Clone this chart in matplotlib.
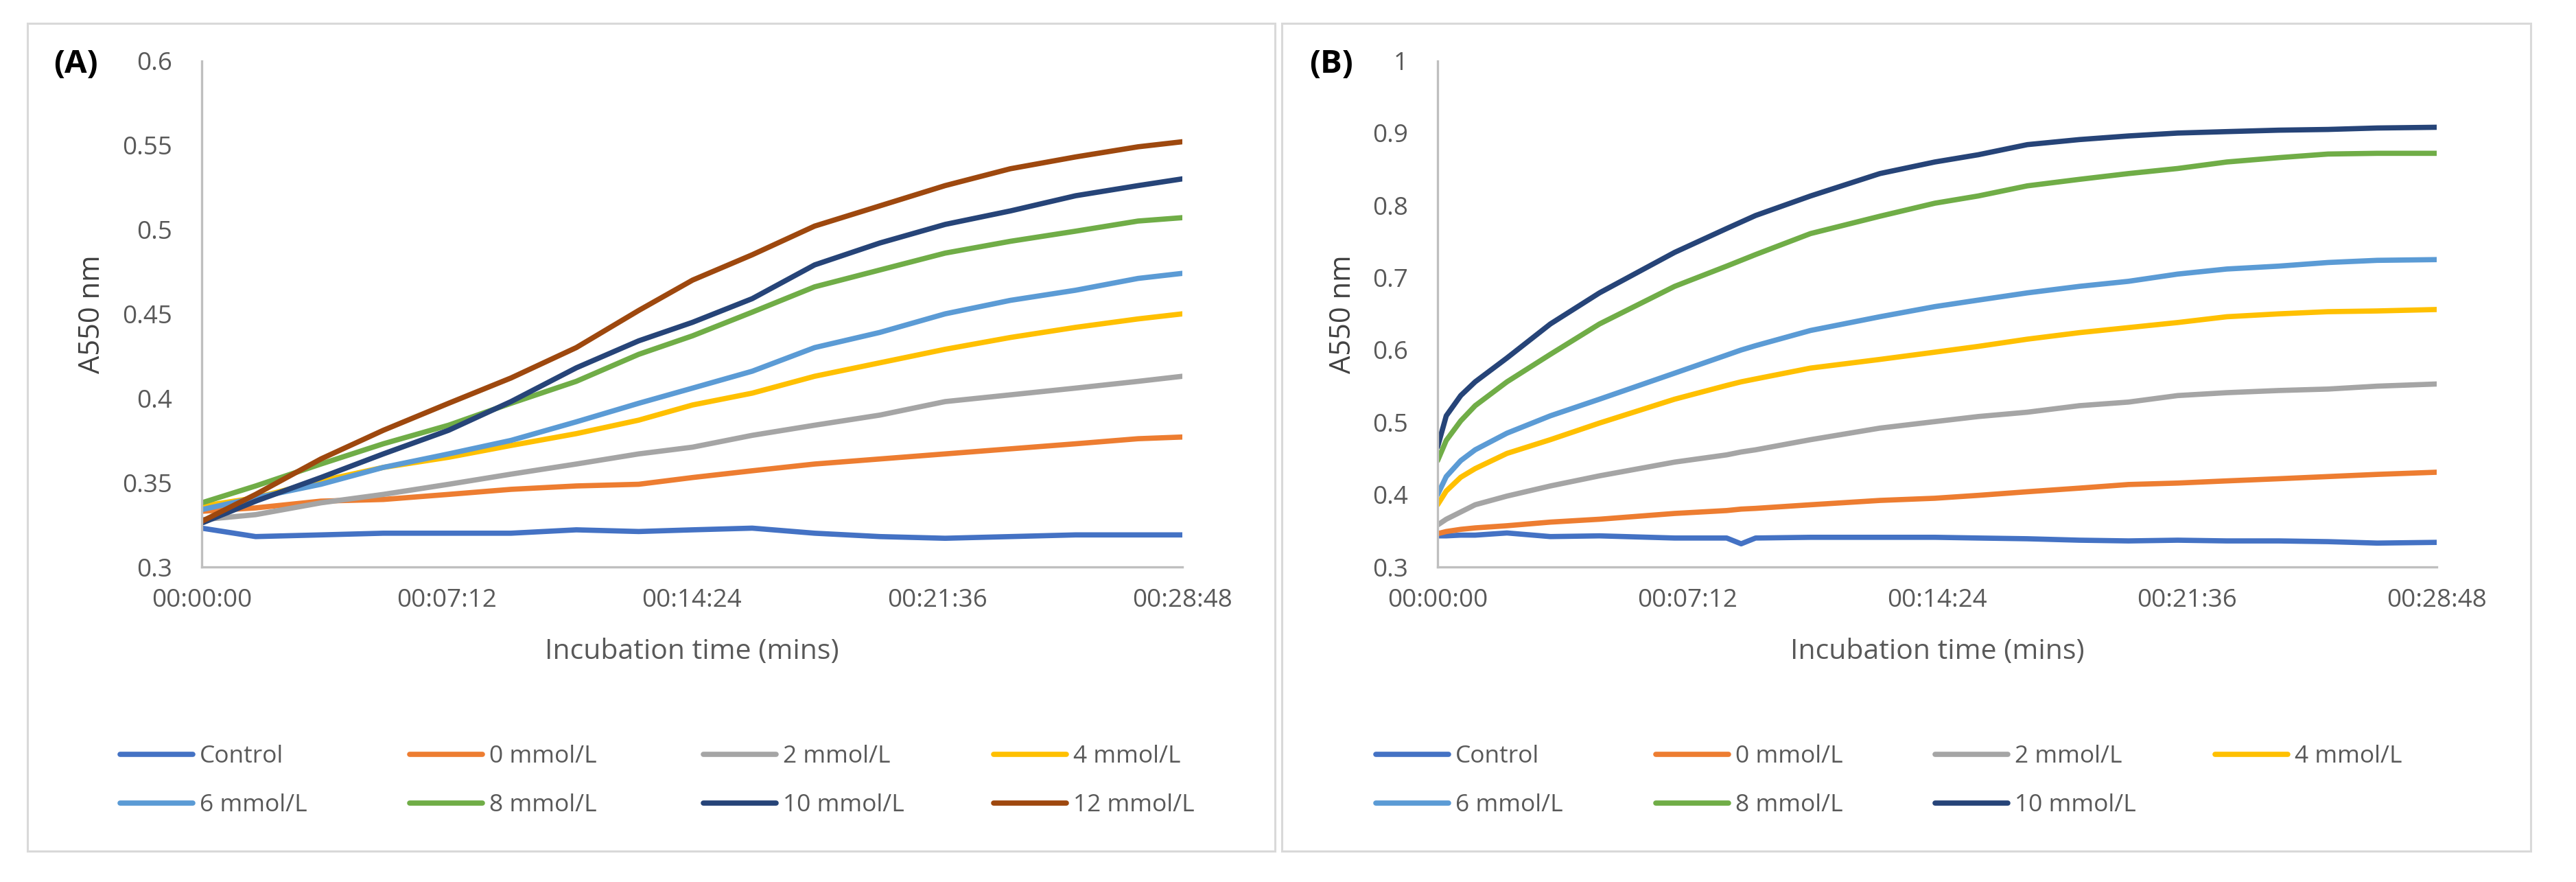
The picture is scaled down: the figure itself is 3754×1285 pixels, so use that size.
import matplotlib
matplotlib.use("Agg")
import matplotlib.pyplot as plt
from matplotlib.lines import Line2D
from matplotlib.patches import Rectangle

plt.rcParams['font.family'] = ['Open Sans', 'DejaVu Sans']

# ---- data (seconds, A550 nm) ----
labels_a = ['Control', '0 mmol/L', '2 mmol/L', '4 mmol/L', '6 mmol/L', '8 mmol/L', '10 mmol/L', '12 mmol/L']
labels_b = labels_a[:7]
colors = ['#4472C4', '#ED7D31', '#A5A5A5', '#FFC000', '#5B9BD5', '#70AD47', '#264478', '#9E480E']

time_a = [0, 95, 210, 320, 435, 545, 660, 770, 865, 970, 1080, 1195, 1310, 1425, 1540, 1650, 1728]
control_a = [0.323, 0.318, 0.319, 0.320, 0.320, 0.320, 0.322, 0.321, 0.322, 0.323, 0.320, 0.318, 0.317, 0.318, 0.319, 0.319, 0.319]
mm0_a = [0.333, 0.335, 0.339, 0.340, 0.343, 0.346, 0.348, 0.349, 0.353, 0.357, 0.361, 0.364, 0.367, 0.370, 0.373, 0.376, 0.377]
mm2_a = [0.328, 0.331, 0.338, 0.343, 0.349, 0.355, 0.361, 0.367, 0.371, 0.378, 0.384, 0.390, 0.398, 0.402, 0.406, 0.410, 0.413]
mm4_a = [0.336, 0.341, 0.351, 0.359, 0.365, 0.372, 0.379, 0.387, 0.396, 0.403, 0.413, 0.421, 0.429, 0.436, 0.442, 0.447, 0.450]
mm6_a = [0.334, 0.341, 0.349, 0.359, 0.367, 0.375, 0.386, 0.397, 0.406, 0.416, 0.430, 0.439, 0.450, 0.458, 0.464, 0.471, 0.474]
mm8_a = [0.338, 0.348, 0.361, 0.373, 0.384, 0.397, 0.410, 0.426, 0.437, 0.451, 0.466, 0.476, 0.486, 0.493, 0.499, 0.505, 0.507]
mm10_a = [0.326, 0.339, 0.353, 0.367, 0.381, 0.398, 0.418, 0.434, 0.445, 0.459, 0.479, 0.492, 0.503, 0.511, 0.520, 0.526, 0.530]
mm12_a = [0.327, 0.343, 0.364, 0.381, 0.397, 0.412, 0.430, 0.452, 0.470, 0.485, 0.502, 0.514, 0.526, 0.536, 0.543, 0.549, 0.552]

time_b = [0, 15, 40, 65, 120, 195, 280, 410, 500, 525, 550, 645, 765, 860, 935, 1020, 1110, 1195, 1280, 1365, 1455, 1540, 1625, 1728]
control_b = [0.343, 0.343, 0.344, 0.344, 0.347, 0.342, 0.343, 0.340, 0.340, 0.332, 0.340, 0.341, 0.341, 0.341, 0.340, 0.339, 0.337, 0.336, 0.337, 0.336, 0.336, 0.335, 0.333, 0.334]
mm0_b = [0.346, 0.349, 0.352, 0.354, 0.357, 0.362, 0.366, 0.374, 0.378, 0.380, 0.381, 0.386, 0.392, 0.395, 0.399, 0.404, 0.409, 0.414, 0.416, 0.419, 0.422, 0.425, 0.428, 0.431]
mm2_b = [0.358, 0.366, 0.376, 0.386, 0.398, 0.412, 0.426, 0.445, 0.455, 0.459, 0.462, 0.476, 0.492, 0.501, 0.508, 0.514, 0.523, 0.528, 0.537, 0.541, 0.544, 0.546, 0.550, 0.553]
mm4_b = [0.386, 0.405, 0.424, 0.436, 0.457, 0.476, 0.499, 0.532, 0.551, 0.556, 0.560, 0.575, 0.587, 0.597, 0.605, 0.615, 0.624, 0.631, 0.638, 0.646, 0.650, 0.653, 0.654, 0.656]
mm6_b = [0.400, 0.425, 0.447, 0.462, 0.485, 0.509, 0.532, 0.568, 0.593, 0.600, 0.606, 0.627, 0.646, 0.660, 0.669, 0.679, 0.688, 0.695, 0.705, 0.712, 0.716, 0.721, 0.724, 0.725]
mm8_b = [0.447, 0.475, 0.502, 0.523, 0.556, 0.594, 0.636, 0.688, 0.716, 0.724, 0.732, 0.761, 0.785, 0.803, 0.813, 0.827, 0.836, 0.844, 0.851, 0.860, 0.866, 0.871, 0.872, 0.872]
mm10_b = [0.466, 0.509, 0.537, 0.556, 0.589, 0.636, 0.679, 0.735, 0.768, 0.777, 0.786, 0.813, 0.844, 0.860, 0.870, 0.884, 0.891, 0.896, 0.900, 0.902, 0.904, 0.905, 0.907, 0.908]

series_a = [control_a, mm0_a, mm2_a, mm4_a, mm6_a, mm8_a, mm10_a, mm12_a]
series_b = [control_b, mm0_b, mm2_b, mm4_b, mm6_b, mm8_b, mm10_b]

x_ticks = [0, 432, 864, 1296, 1728]
x_ticklabels = ['00:00:00', '00:07:12', '00:14:24', '00:21:36', '00:28:48']
y_ticks_a = [0.3, 0.35, 0.4, 0.45, 0.5, 0.55, 0.6]
y_ticklabels_a = ['0.3', '0.35', '0.4', '0.45', '0.5', '0.55', '0.6']
y_ticks_b = [0.3, 0.4, 0.5, 0.6, 0.7, 0.8, 0.9, 1.0]
y_ticklabels_b = ['0.3', '0.4', '0.5', '0.6', '0.7', '0.8', '0.9', '1']

W, H = 3755, 1285
fig = plt.figure(figsize=(W / 100, H / 100), dpi=100)

TXT = '#595959'
AX = '#BFBFBF'


def fx(px):
    return px / W


def fy(py):
    return 1 - py / H


# panel frames
for x0, x1 in [(40, 1858), (1868, 3688)]:
    fig.patches.append(Rectangle((fx(x0), fy(1240)), fx(x1 - x0), (1240 - 34) / H,
                                 transform=fig.transFigure, fill=False,
                                 edgecolor='#D9D9D9', lw=2.2, zorder=0))


def draw_panel(left, right, times, series, labels, yticks, yticklabels, ylim,
               ylabel_x, tag, tag_x, legend_cols):
    ax = fig.add_axes([fx(left), fy(826), fx(right - left), (826 - 88.5) / H])
    handles = []
    for vals, lab, col in zip(series, labels, colors):
        h, = ax.plot(times, vals, color=col, lw=5.5, solid_capstyle='round',
                     solid_joinstyle='round', label=lab)
        handles.append(h)
    ax.set_xlim(0, 1728)
    ax.set_ylim(*ylim)
    ax.set_xticks(x_ticks)
    ax.set_xticklabels(x_ticklabels)
    ax.set_yticks(yticks)
    ax.set_yticklabels(yticklabels)
    ax.tick_params(axis='both', length=0, labelsize=26.5, labelcolor=TXT)
    ax.tick_params(axis='y', pad=31)
    ax.tick_params(axis='x', pad=22)
    for s in ['top', 'right']:
        ax.spines[s].set_visible(False)
    for s in ['left', 'bottom']:
        ax.spines[s].set_color(AX)
        ax.spines[s].set_linewidth(2.4)
    ax.set_xlabel('Incubation time (mins)', fontsize=29.5, color=TXT)
    ax.xaxis.label.set_va('center')
    ax.xaxis.set_label_coords(0.5, -0.168)
    ax.set_ylabel('A550 nm', fontsize=30, color='#404040')
    ax.yaxis.label.set_va('center')
    ax.yaxis.set_label_coords((ylabel_x - left) / (right - left), 0.5)
    fig.text(fx(tag_x), fy(94), tag, fontsize=34, fontweight='bold',
             ha='center', va='center', color='black')

    # legend: Excel style, row-wise, evenly spaced columns
    rows = [1102, 1173]
    for i, h in enumerate(handles):
        r, c = divmod(i, 4)
        leg = fig.legend(handles=[Line2D([], [], color=h.get_color(), lw=5.5,
                                         solid_capstyle='round')],
                         labels=[h.get_label()], loc='center left',
                         bbox_to_anchor=(fx(legend_cols[c]), fy(rows[r])),
                         frameon=False, fontsize=25.5, handlelength=3.0,
                         handletextpad=0.28, borderpad=0, borderaxespad=0)
        for t in leg.get_texts():
            t.set_color(TXT)
    return ax


draw_panel(294, 1723, time_a, series_a, labels_a, y_ticks_a, y_ticklabels_a,
           (0.3, 0.6), 134, '(A)', 110, [175, 597, 1025, 1448])
draw_panel(2095, 3551, time_b, series_b, labels_b, y_ticks_b, y_ticklabels_b,
           (0.3, 1.0), 1957, '(B)', 1940, [2005, 2413, 2820, 3228])

fig.savefig('out.png', dpi=100)
